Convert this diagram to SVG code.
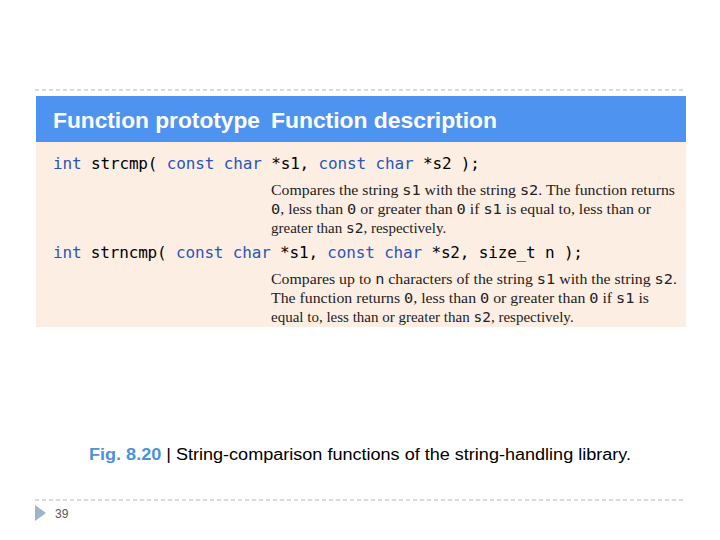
<svg xmlns="http://www.w3.org/2000/svg" width="720" height="540" viewBox="0 0 720 540">
<style>
.code{font-family:"DejaVu Sans Mono",monospace;font-size:16px;fill:#000}
.kw{fill:#2a55b8}
.d{font-family:"Liberation Serif",serif;font-size:15px;fill:#222}
.m{font-family:"DejaVu Sans Mono",monospace;font-size:14.5px}
.h{font-family:"Liberation Sans",Arial,sans-serif;font-weight:bold;font-size:22px;fill:#fff}
.dash{stroke:#b0b8c4;stroke-width:1;stroke-dasharray:4,3}
</style>
<rect width="720" height="540" fill="#fff"/>
<line class="dash" x1="35" y1="90" x2="686" y2="90"/>
<g id="table">
<rect x="36" y="96" width="650" height="46" fill="#4f93f0"/>
<rect x="36" y="142" width="650" height="185" fill="#fdeee4"/>
<text class="h" x="53" y="128" textLength="207" lengthAdjust="spacingAndGlyphs">Function prototype</text>
<text class="h" x="271" y="128" textLength="226" lengthAdjust="spacingAndGlyphs">Function description</text>
<text class="code" x="53" y="169" textLength="427"><tspan class="kw">int</tspan> strcmp( <tspan class="kw">const char</tspan> *s1, <tspan class="kw">const char</tspan> *s2 );</text>
<text class="d" x="271" y="195" textLength="404" lengthAdjust="spacingAndGlyphs">Compares the string <tspan class="m">s1</tspan> with the string <tspan class="m">s2</tspan>. The function returns</text>
<text class="d" x="271" y="214" textLength="380" lengthAdjust="spacingAndGlyphs"><tspan class="m">0</tspan>, less than <tspan class="m">0</tspan> or greater than <tspan class="m">0</tspan> if <tspan class="m">s1</tspan> is equal to, less than or</text>
<text class="d" x="271" y="233">greater than <tspan class="m">s2</tspan>, respectively.</text>
<text class="code" x="53" y="258" textLength="530"><tspan class="kw">int</tspan> strncmp( <tspan class="kw">const char</tspan> *s1, <tspan class="kw">const char</tspan> *s2, size_t n );</text>
<text class="d" x="271" y="284" textLength="406" lengthAdjust="spacingAndGlyphs">Compares up to <tspan class="m">n</tspan> characters of the string <tspan class="m">s1</tspan> with the string <tspan class="m">s2</tspan>.</text>
<text class="d" x="271" y="303" textLength="378" lengthAdjust="spacingAndGlyphs">The function returns <tspan class="m">0</tspan>, less than <tspan class="m">0</tspan> or greater than <tspan class="m">0</tspan> if <tspan class="m">s1</tspan> is</text>
<text class="d" x="271" y="322">equal to, less than or greater than <tspan class="m">s2</tspan>, respectively.</text>
</g>
<text x="89" y="460" font-family="Liberation Sans,Arial,sans-serif" font-size="16" fill="#000" textLength="542" lengthAdjust="spacingAndGlyphs"><tspan fill="#4f8fe0" font-weight="bold">Fig. 8.20</tspan> | String-comparison functions of the string-handling library.</text>
<line class="dash" x1="35" y1="500" x2="686" y2="500"/>
<polygon points="35,505 46,513 35,521" fill="#9fb3cc"/>
<text x="55" y="518" font-family="Liberation Sans,Arial,sans-serif" font-size="12" fill="#555">39</text>
</svg>
